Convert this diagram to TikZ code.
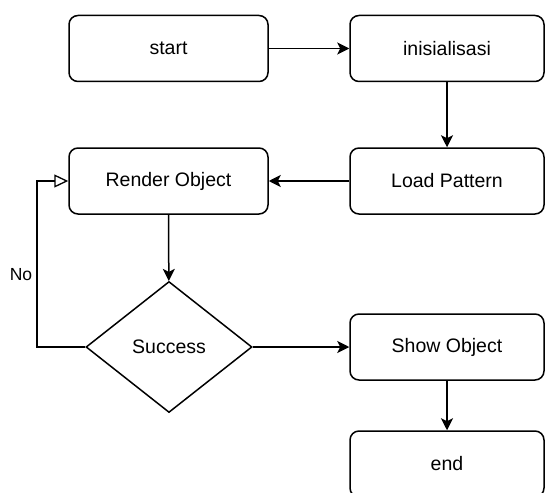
\documentclass[tikz,border=0pt]{standalone}
\usepackage{fontspec}
\setmainfont{Liberation Sans}
\usetikzlibrary{shapes.geometric,arrows.meta}
\begin{document}
\begin{tikzpicture}[x=1pt,y=-1pt,
  box/.style={draw,line width=1.5pt,rounded corners=9pt,minimum width=196pt,minimum height=66pt,inner sep=0pt,font=\fontsize{19.5}{22}\selectfont},
  dec/.style={draw,diamond,line width=1.5pt,minimum width=166pt,minimum height=131pt,inner sep=0pt,font=\fontsize{19.5}{22}\selectfont},
  flow/.style={line width=1.5pt,-{Stealth[length=12pt,width=12pt,inset=3pt]}},
  back/.style={line width=1.5pt,-{Triangle[open,length=14pt,width=13pt,line width=1.3pt]}}]
\useasboundingbox (0,0) rectangle (545,492);
\node[box,minimum width=199pt] (start) at (168.5,48.5) {start};
\node[box,minimum width=194pt] (init) at (447,48.5) {inisialisasi};
\node[box,minimum width=199pt] (render) at (168.5,181) {Render Object};
\node[box,minimum width=194pt] (load) at (447,181) {Load Pattern};
\node[dec] (succ) at (169,347) {Success};
\node[box,minimum width=194pt] (show) at (447,347) {Show Object};
\node[box,minimum width=194pt] (end) at (447,464) {end};
\coordinate (c1) at (37,347);
\coordinate (c2) at (37,181);
\node[font=\fontsize{17.5}{20}\selectfont] (no) at (21,275) {No};
\draw[flow] (start) -- (init);
\draw[flow] (init) -- (load);
\draw[flow] (load) -- (render);
\draw[flow] (render) -- (succ);
\draw[flow] (succ) -- (show);
\draw[flow] (show) -- (end);
\draw[back] (succ.west) -- (c1) -- (c2) -- (render.west);
\end{tikzpicture}
\end{document}
